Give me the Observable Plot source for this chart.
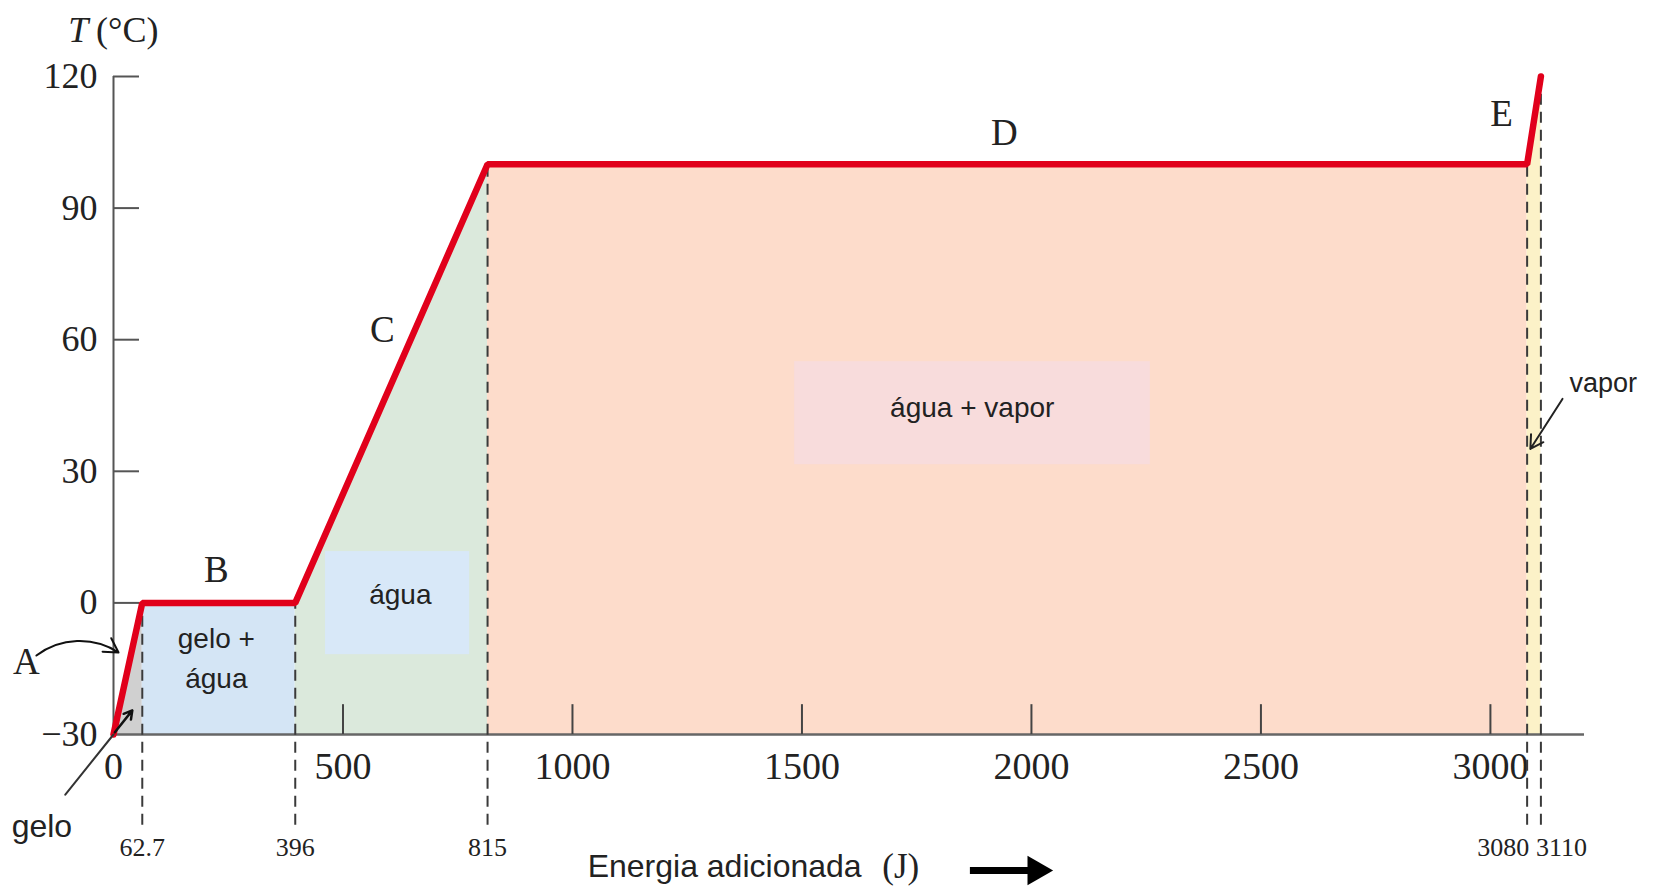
<!DOCTYPE html>
<html><head><meta charset="utf-8">
<script src="https://cdn.jsdelivr.net/npm/d3@7"></script>
<script src="https://cdn.jsdelivr.net/npm/@observablehq/plot@0.6"></script>
<style>body{margin:0;background:#fff;} #chart svg{display:block;}</style>
</head><body><div id="chart"></div>
<script>
// Heating curve of water: energy added (J) vs temperature (°C)
const energy = [0, 62.7, 396, 815, 3080, 3110];
const temperature = [-30, 0, 0, 100, 100, 120];
const phases = ["A", "B", "C", "D", "E"];
const phaseColors = ["#d0d0d0", "#d4e5f5", "#dbe9dc", "#fddccb", "#fcf2c8"];
const xTicks = [0, 500, 1000, 1500, 2000, 2500, 3000];
const yTicks = [-30, 0, 30, 60, 90, 120];
const markerEnergies = [62.7, 396, 815, 3080, 3110];
const markerLabels = ["62.7", "396", "815", "3080", "3110"];
const stateLabels = ["gelo +\nágua", "água", "água + vapor", "vapor", "gelo"];
const xTitle = ["Energia adicionada", "(J)"];

const SERIF = "'Liberation Serif', 'DejaVu Serif', serif";
const SANS = "'Liberation Sans', Arial, sans-serif";

const segs = phases.flatMap((p, i) => [
  {p, x: energy[i], y: temperature[i], c: phaseColors[i]},
  {p, x: energy[i + 1], y: temperature[i + 1], c: phaseColors[i]}
]);
const curve = energy.map((e, i) => ({e, t: temperature[i]}));
const minus = d => d < 0 ? "\u2212" + Math.abs(d) : String(d);

const letterPos = [[-190, -13.6], [224, 7.4], [586, 62.1], [1941, 107], [3024, 111.5]];

const chart = Plot.plot({
  width: 1656,
  height: 891,
  marginLeft: 113,
  marginRight: 72,
  marginTop: 76,
  marginBottom: 157,
  x: {domain: [0, 3205]},
  y: {domain: [-30, 120]},
  color: {type: "identity"},
  style: {fontFamily: SERIF, color: "#222", background: "#fff"},
  marks: [
    // phase regions under the curve
    Plot.areaY(segs, {x: "x", y1: -30, y2: "y", z: "p", fill: "c"}),
    // label boxes
    Plot.rect([0], {x1: 462, x2: 776, y1: -11.8, y2: 11.7, fill: "#d8e8f8"}),
    Plot.rect([0], {x1: 1484, x2: 2259, y1: 31.5, y2: 55.0, fill: "#f8dcdc"}),
    // axes lines and ticks
    Plot.ruleX([0], {y1: -30, y2: 120, stroke: "#555", strokeWidth: 2}),
    Plot.ruleY(yTicks.filter(t => t > -30), {x1: 0, x2: 56.6, stroke: "#555", strokeWidth: 2}),
    Plot.ruleY([-30], {x1: 0, x2: 3205, stroke: "#666", strokeWidth: 2.5}),
    Plot.ruleX(xTicks.filter(t => t > 0), {y1: -30, y2: -23.2, stroke: "#444", strokeWidth: 2}),
    Plot.axisX({ticks: xTicks, tickSize: 0, tickPadding: 18, tickFormat: d => String(d), fontSize: 38, fontFamily: SERIF, label: null}),
    Plot.axisY({ticks: yTicks, tickSize: 0, tickPadding: 16, tickFormat: minus, fontSize: 36, fontFamily: SERIF, label: null}),
    // dashed phase boundaries
    Plot.ruleX(markerEnergies, {x: d => d, y1: -50.7, y2: d => temperature[energy.indexOf(d)], stroke: "#3a3a3a", strokeWidth: 2, strokeDasharray: "11,7"}),
    // heating curve
    Plot.line(curve, {x: "e", y: "t", stroke: "#e1001b", strokeWidth: 6.5, strokeLinejoin: "miter"}),
    // marker labels
    Plot.text(markerEnergies.slice(0, 3), {x: d => d, y: -55.8, text: (d, i) => markerLabels[i], fontSize: 26, fontFamily: SERIF}),
    Plot.text([markerEnergies[3]], {x: d => d, y: -55.8, text: () => markerLabels[3], fontSize: 26, fontFamily: SERIF, textAnchor: "end", dx: 2}),
    Plot.text([markerEnergies[4]], {x: d => d, y: -55.8, text: () => markerLabels[4], fontSize: 26, fontFamily: SERIF, textAnchor: "start", dx: -5}),
    // phase letters
    Plot.text(phases, {x: (d, i) => letterPos[i][0], y: (d, i) => letterPos[i][1], text: d => d, fontSize: 37, fontFamily: SERIF}),
    // y label
    Plot.text(["T"], {x: -55, y: 130.5, text: d => d, fontSize: 36, fontStyle: "italic", fontFamily: SERIF, textAnchor: "end"}),
    Plot.text(["(°C)"], {x: -38, y: 130.5, text: d => d, fontSize: 36, fontFamily: SERIF, textAnchor: "start"}),
    // state labels
    Plot.text([stateLabels[0]], {x: 224, y: -12, text: d => d, fontSize: 28, lineHeight: 1.43, fontFamily: SANS}),
    Plot.text([stateLabels[1]], {x: 625, y: 1.7, text: d => d, fontSize: 28, fontFamily: SANS}),
    Plot.text([stateLabels[2]], {x: 1871, y: 44.5, text: d => d, fontSize: 28, fontFamily: SANS}),
    Plot.text([stateLabels[3]], {x: 3246, y: 50.0, text: d => d, fontSize: 27, fontFamily: SANS}),
    Plot.text([stateLabels[4]], {x: -156, y: -51, text: d => d, fontSize: 32, fontFamily: SANS}),
    // annotation lines/arrows
    Plot.line([[0, -30], [-105, -43.7]], {stroke: "#333", strokeWidth: 2}),
    Plot.arrow([0], {x1: -168, y1: -12.0, x2: 11, y2: -11.3, bend: 35, stroke: "#111", strokeWidth: 2, headLength: 12}),
    Plot.arrow([0], {x1: 3, y1: -29.5, x2: 41, y2: -24.5, stroke: "#111", strokeWidth: 2.5, headLength: 10}),
    Plot.arrow([0], {x1: 3157, y1: 46.5, x2: 3087, y2: 35.1, stroke: "#222", strokeWidth: 2, headLength: 11}),
    // x title + arrow
    Plot.text([xTitle[0]], {x: 1630, y: -60.1, text: d => d, fontSize: 32, fontFamily: SANS, textAnchor: "end"}),
    Plot.text([xTitle[1]], {x: 1675, y: -60.1, text: d => d, fontSize: 35, fontFamily: SERIF, textAnchor: "start"}),
    Plot.ruleY([-61], {x1: 1867, x2: 2000, stroke: "#000", strokeWidth: 7}),
    Plot.dot([0], {x: 2010, y: -61, symbol: "triangle", rotate: 90, r: 11, fill: "#000", stroke: "none"})
  ]
});
document.getElementById("chart").append(chart);
</script>
</body></html>
